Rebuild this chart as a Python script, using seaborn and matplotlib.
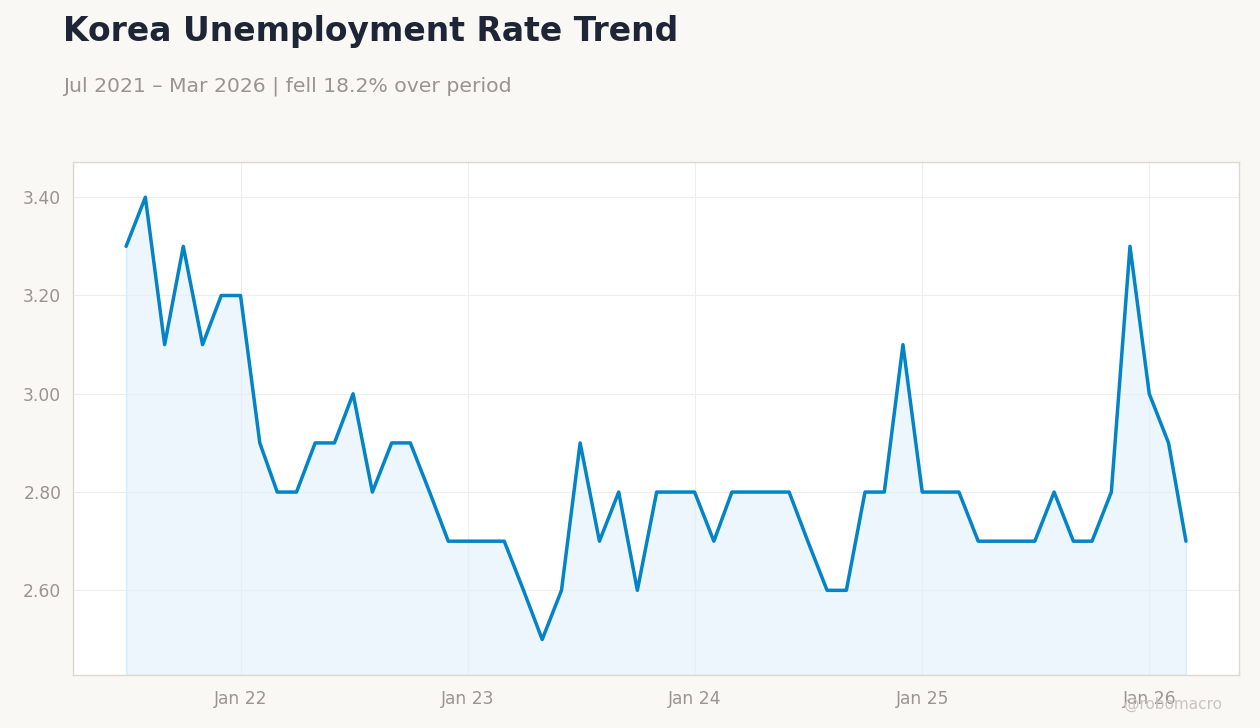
import pandas as pd
import numpy as np
import seaborn as sns
import matplotlib.pyplot as plt
import matplotlib.dates as mdates

# 月次データ (Jul 2021 - Mar 2026)
months = pd.date_range("2021-07-01", "2026-03-01", freq="MS")
rate = [3.3, 3.4, 3.1, 3.3, 3.1, 3.2,
        3.2, 2.9, 2.8, 2.8, 2.9, 2.9, 3.0, 2.8, 2.9, 2.9, 2.8, 2.7,
        2.7, 2.7, 2.7, 2.6, 2.5, 2.6, 2.9, 2.7, 2.8, 2.6, 2.8, 2.8,
        2.8, 2.7, 2.8, 2.8, 2.8, 2.8, 2.7, 2.6, 2.6, 2.8, 2.8, 3.1,
        2.8, 2.8, 2.8, 2.7, 2.7, 2.7, 2.7, 2.8, 2.7, 2.7, 2.8, 3.3,
        3.0, 2.9, 2.7]
title = "Korea Unemployment Rate Trend"
subtitle = "Jul 2021 – Mar 2026 | fell 18.2% over period"

df = pd.DataFrame({"date": months, "rate": rate})

sns.set_style("whitegrid")
plt.rcParams['font.family'] = ['DejaVu Sans']

bg = "#f9f8f5"
line_c = "#0284c7"
grey = "#999590"

fig = plt.figure(figsize=(12.6, 7.28), dpi=100, facecolor=bg)
ax = fig.add_axes([0.058, 0.073, 0.9253, 0.7047])
ax.set_facecolor("white")

sns.lineplot(data=df, x="date", y="rate", ax=ax, color=line_c, linewidth=2.5)
ax.margins(x=0.05)
ax.set_ylim(2.428, 3.472)
ax.fill_between(df["date"], df["rate"], 2.428, color="#e0f0fa", alpha=0.6,
                edgecolor="#c8e3f5", linewidth=1)

ax.set_yticks([2.6, 2.8, 3.0, 3.2, 3.4])
ax.yaxis.set_major_formatter(plt.FuncFormatter(lambda v, p: f"{v:.2f}"))
ax.xaxis.set_major_locator(mdates.YearLocator(month=1, day=1))
ax.xaxis.set_major_formatter(mdates.DateFormatter("Jan %y"))
ax.set_xlabel("")
ax.set_ylabel("")
ax.grid(True, color="#eeeeee", linewidth=0.8)
ax.tick_params(axis="both", colors=grey, labelsize=12.3, length=5, width=1,
               labelcolor=grey)
ax.tick_params(axis="x", pad=6)
for s in ax.spines.values():
    s.set_color("#ddd8d0")
    s.set_linewidth(1)

fig.text(0.05, 0.957, title, fontsize=23.8, fontweight="bold", color="#1e2536",
         va="center")
fig.text(0.05, 0.882, subtitle, fontsize=14.7, color=grey, va="center")
fig.text(0.97, 0.032, "@robomacro", fontsize=11, color="#c8c5c0", ha="right",
         va="center")

fig.savefig("out.png", dpi=100, facecolor=bg)
